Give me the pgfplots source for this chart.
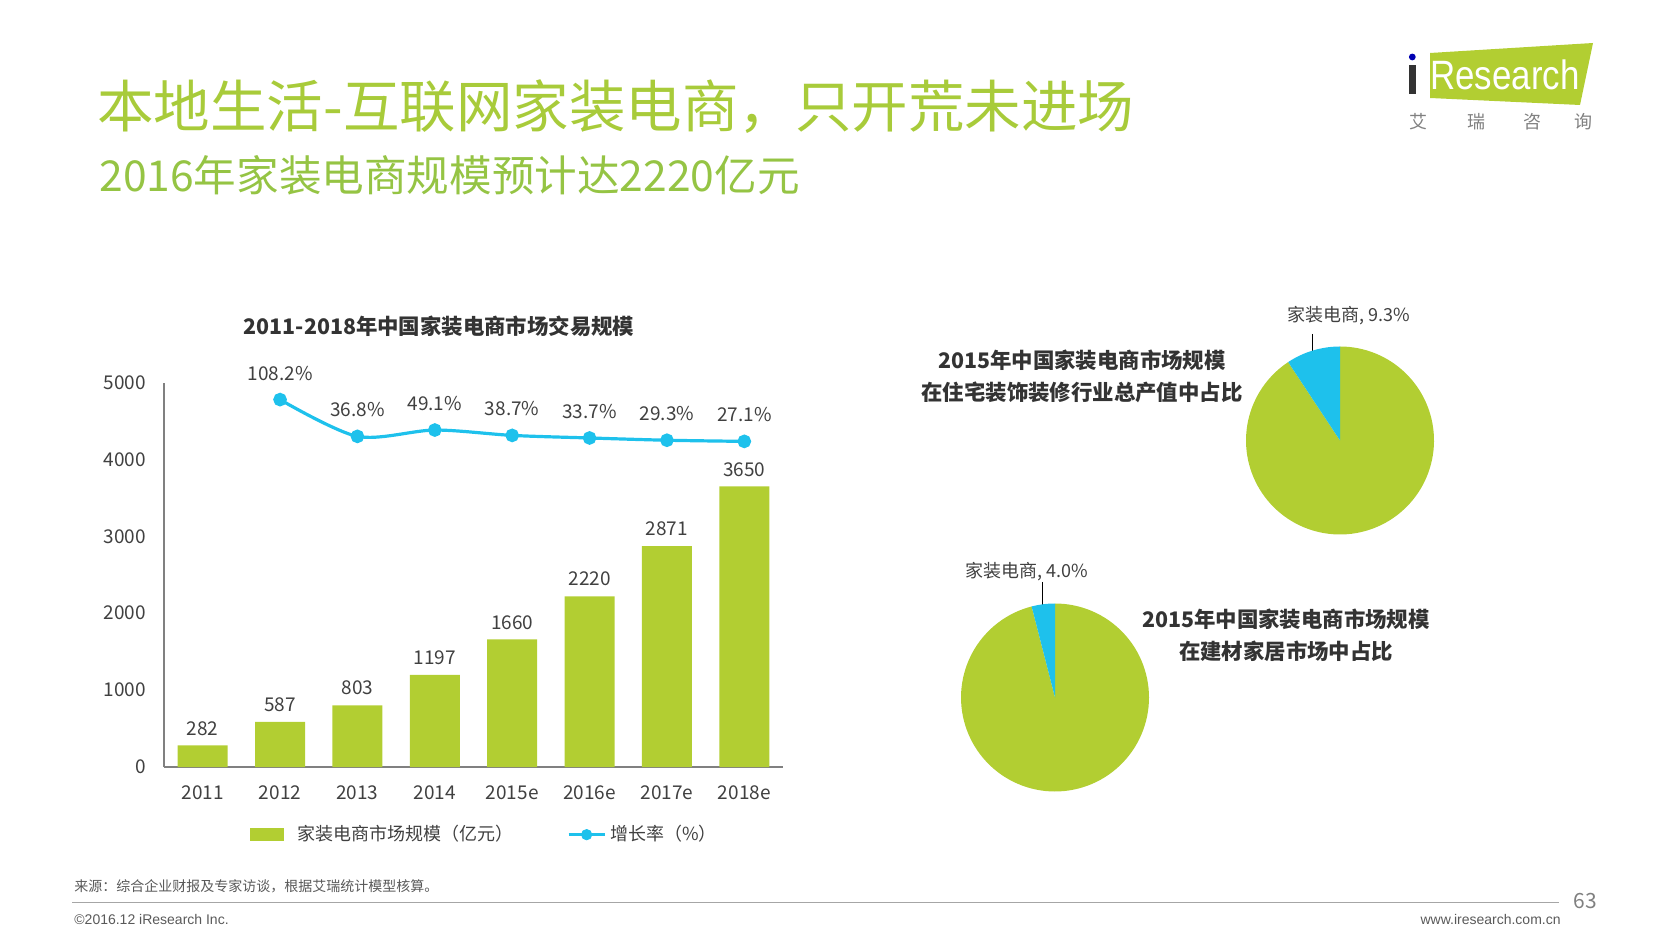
\documentclass[border=0pt]{standalone}
\usepackage{fontspec}
\setmainfont{Noto Sans CJK SC}
\newfontfamily\arialf{Liberation Sans}
\usepackage{pgfplots}
\pgfplotsset{compat=1.18}
\definecolor{barg}{HTML}{B2CE32}
\definecolor{linec}{HTML}{1EC1EC}
\definecolor{titleg}{HTML}{A8CB3A}
\definecolor{subg}{HTML}{95C444}
\definecolor{txt}{HTML}{404040}
\definecolor{dark}{HTML}{333333}
\definecolor{foot}{HTML}{595959}
\begin{document}
\begin{tikzpicture}
\path[use as bounding box] (0,0) rectangle (840pt,-472.5pt);
\begin{scope}[x=0.5pt,y=-0.5pt]
\coordinate (A) at (164,767);
\coordinate (P1) at (1340,440.5);
\coordinate (P2) at (1055,697.5);
% titles
\node[anchor=west, text=titleg, font=\fontsize{28.25}{30}\selectfont, inner sep=0] at (97,107) {本地生活-互联网家装电商，只开荒未进场};
\node[anchor=west, text=subg, font=\fontsize{21.3}{24}\selectfont, inner sep=0] at (99,175) {2016年家装电商规模预计达2220亿元};
% logo
\fill[barg] (1430,53) -- (1593,43) -- (1580,105) -- (1430,98) -- cycle;
\fill[dark] (1409,65) rectangle (1415.5,94);
\fill[blue!70!black] (1412.3,57) circle (3.4);
\node[anchor=base, text=white, font=\arialf\fontsize{20.5}{22}\selectfont, xscale=0.85, inner sep=0] at (1505,90) {Research};
\foreach \c/\xx in {艾/1418,瑞/1476,咨/1532,询/1583}
  \node[text=gray, font=\fontsize{9}{10}\selectfont, inner sep=0] at (\xx,122) {\c};
% chart title
\node[text=dark, font=\bfseries\fontsize{10.7}{13}\selectfont, inner sep=0] at (439,326) {2011-2018年中国家装电商市场交易规模};
% pie titles
\node[text=dark, font=\bfseries\fontsize{10.7}{13}\selectfont, inner sep=0] at (1082,360) {2015年中国家装电商市场规模};
\node[text=dark, font=\bfseries\fontsize{10.7}{13}\selectfont, inner sep=0] at (1082,392) {在住宅装饰装修行业总产值中占比};
\node[text=dark, font=\bfseries\fontsize{10.7}{13}\selectfont, inner sep=0] at (1286,619) {2015年中国家装电商市场规模};
\node[text=dark, font=\bfseries\fontsize{10.7}{13}\selectfont, inner sep=0] at (1286,651) {在建材家居市场中占比};
% pie labels
\node[text=txt, font=\fontsize{9}{10}\selectfont, inner sep=0] at (1349,316) {家装电商, 9.3\%};
\draw[black, line width=0.5pt] (1312.5,334) -- (1312.5,352);
\node[text=txt, font=\fontsize{9}{10}\selectfont, inner sep=0] at (1027,572) {家装电商, 4.0\%};
\draw[black, line width=0.5pt] (1042.5,582) -- (1042.5,606);
% footer
\node[anchor=west, text=foot, font=\fontsize{7}{8}\selectfont, inner sep=0] at (74,886) {来源：综合企业财报及专家访谈，根据艾瑞统计模型核算。};
\draw[gray!70, line width=0.5pt] (72,902) -- (1559,902);
\node[text=gray, font=\fontsize{10.5}{12}\selectfont, inner sep=0] at (1585,901) {63};
\node[anchor=west, text=foot, font=\arialf\fontsize{7}{8}\selectfont, inner sep=0] at (74,919) {©2016.12 iResearch Inc.};
\node[anchor=east, text=foot, font=\arialf\fontsize{7}{8}\selectfont, inner sep=0] at (1561,919) {www.iresearch.com.cn};
\end{scope}

% bar chart
\begin{axis}[at={(A)}, anchor=south west, scale only axis,
  width=309.5pt, height=192.25pt,
  xmin=-0.5, xmax=7.5, ymin=0, ymax=5000,
  axis x line*=bottom, axis y line*=left,
  axis line style={draw=gray, line width=0.6pt},
  major tick length=0pt,
  xtick={0,...,7},
  xticklabels={2011,2012,2013,2014,2015e,2016e,2017e,2018e},
  ytick={0,1000,...,5000},
  scaled y ticks=false,
  /pgf/number format/assume math mode=true,
  /pgf/number format/1000 sep={},
  tick label style={font=\fontsize{9.5}{11}\selectfont, text=txt},
  yticklabel style={xshift=-5.5pt},
  xticklabel style={yshift=-6pt},
  legend columns=2,
  legend style={at={(0.129,-0.176)}, anchor=west, draw=none, fill=none,
    font=\fontsize{9}{11}\selectfont, text=txt,
    /tikz/every even column/.append style={column sep=24.6pt}},
  clip=false]
\addplot[ybar, bar width=25pt, fill=barg, draw=none,
  nodes near coords,
  nodes near coords style={font=\fontsize{9.5}{11}\selectfont, text=txt, yshift=1.5pt},
  legend image code/.code={\fill[barg] (0pt,-3.2pt) rectangle (17pt,3.2pt); \path (21.8pt,0pt);}]
  coordinates {(0,282) (1,587) (2,803) (3,1197) (4,1660) (5,2220) (6,2871) (7,3650)};
\addlegendentry{家装电商市场规模（亿元）}
\addlegendimage{legend image code/.code={\draw[linec, line width=1.6pt] (0pt,0pt) -- (18pt,0pt); \fill[linec] (9pt,0pt) circle (2.6pt);}}
\addlegendentry{增长率（\%）}
\end{axis}

% growth line
\begin{axis}[at={(A)}, anchor=south west, scale only axis,
  width=309.5pt, height=192.25pt,
  xmin=-0.5, xmax=7.5, ymin=-605, ymax=141.4,
  hide axis, clip=false,
  /pgf/number format/assume math mode=true]
\addplot[linec, line width=1.6pt, smooth, mark=*, mark size=2.6pt,
  mark options={fill=linec, draw=linec},
  nodes near coords={\pgfmathprintnumber[fixed,precision=1,fixed zerofill]{\pgfplotspointmeta}\%},
  nodes near coords style={font=\fontsize{9.5}{11}\selectfont, text=txt, yshift=5.5pt}]
  coordinates {(1,108.2) (2,36.8) (3,49.1) (4,38.7) (5,33.7) (6,29.3) (7,27.1)};
\end{axis}

% pie 1
\begin{axis}[at={(P1)}, anchor=center, scale only axis, width=94pt, height=94pt,
  xmin=-1, xmax=1, ymin=-1, ymax=1, hide axis, clip=false]
\addplot[fill=barg, draw=none, domain={90+9.3*3.6}:450, samples=120] ({cos(x)},{sin(x)}) -- (axis cs:0,0) -- cycle;
\addplot[fill=linec, draw=none, domain=90:{90+9.3*3.6}, samples=20] ({cos(x)},{sin(x)}) -- (axis cs:0,0) -- cycle;
\end{axis}

% pie 2
\begin{axis}[at={(P2)}, anchor=center, scale only axis, width=94pt, height=94pt,
  xmin=-1, xmax=1, ymin=-1, ymax=1, hide axis, clip=false]
\addplot[fill=barg, draw=none, domain={90+4.0*3.6}:450, samples=120] ({cos(x)},{sin(x)}) -- (axis cs:0,0) -- cycle;
\addplot[fill=linec, draw=none, domain=90:{90+4.0*3.6}, samples=20] ({cos(x)},{sin(x)}) -- (axis cs:0,0) -- cycle;
\end{axis}
\end{tikzpicture}
\end{document}
